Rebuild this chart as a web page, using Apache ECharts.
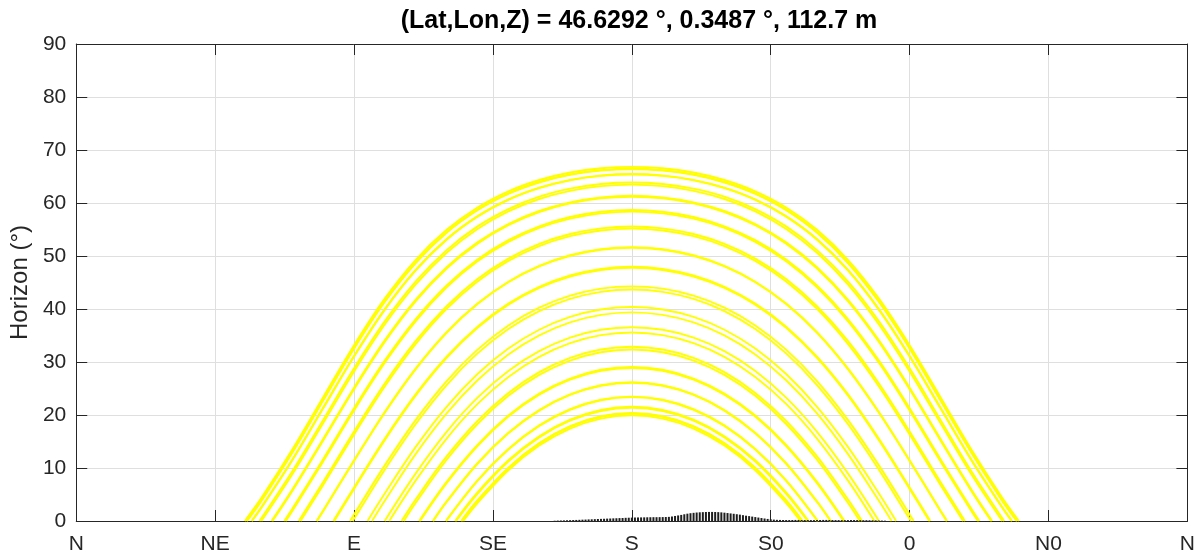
<!DOCTYPE html>
<html>
<head>
<meta charset="utf-8">
<script src="https://cdn.jsdelivr.net/npm/echarts@6/dist/echarts.min.js"></script>
<style>
  html, body { margin: 0; padding: 0; background: #ffffff; }
  #chart { width: 1198px; height: 557px; }
</style>
</head>
<body>
<div id="chart"></div>
<script>
// ---------- data ----------
const titleText = '(Lat,Lon,Z) = 46.6292 °, 0.3487 °, 112.7 m';
const xTickLabels = ['N', 'NE', 'E', 'SE', 'S', 'S0', '0', 'N0', 'N'];
const yTicks = [0, 10, 20, 30, 40, 50, 60, 70, 80, 90];

// morning azimuths (deg from north) at which elevations were read; paths are symmetric about S (180)
const azGrid = [180, 170, 160, 150, 140, 130, 120, 110, 100, 90, 80, 70, 60];

const dateLabels = ['21 Jun', '1 Jul', '11 Jun', '11 Jul', '1 Jun', '21 Jul', '21 May', '1 Aug', '11 May',
  '11 Aug', '1 May', '21 Aug', '21 Apr', '1 Sep', '11 Apr', '11 Sep', '1 Apr', '21 Sep', '21 Mar',
  '1 Oct', '11 Mar', '11 Oct', '1 Mar', '21 Oct', '21 Feb', '1 Nov', '11 Feb', '1 Feb', '11 Nov',
  '21 Nov', '21 Jan', '1 Dec', '11 Jan', '1 Jan', '11 Dec', '21 Dec'];

// sunrise azimuth (elevation 0) for each date, same order
const sunriseAz = [54.60, 55.16, 55.32, 56.78, 56.94, 59.34, 59.97, 63.26, 63.57,
  67.40, 67.86, 72.08, 72.67, 77.86, 78.01, 83.29, 83.59, 88.69, 89.56,
  94.37, 95.83, 99.93, 101.40, 105.40, 106.14, 111.09, 111.39, 115.51, 115.66,
  119.71, 119.87, 122.74, 123.06, 124.68, 124.84, 125.40];

// elevations (deg) at azGrid for each date
const jun21 = [66.81, 66.55, 65.75, 64.34, 62.21, 59.16, 54.94, 49.29, 42.00, 33.17, 23.36, 13.48, 4.37];
const jul01 = [66.47, 66.21, 65.40, 63.98, 61.82, 58.74, 54.50, 48.81, 41.50, 32.67, 22.87, 13.00, 3.93];
const jun11 = [66.37, 66.11, 65.30, 63.87, 61.71, 58.62, 54.37, 48.67, 41.36, 32.52, 22.72, 12.86, 3.80];
const jul11 = [65.47, 65.20, 64.37, 62.90, 60.68, 57.52, 53.20, 47.41, 40.03, 31.17, 21.40, 11.60, 2.63];
const jun01 = [65.37, 65.11, 64.27, 62.79, 60.57, 57.40, 53.06, 47.27, 39.88, 31.02, 21.25, 11.46, 2.50];
const jul21 = [63.87, 63.59, 62.71, 61.19, 58.86, 55.59, 51.11, 45.19, 37.71, 28.81, 19.08, 9.38, 0.54];
const may21 = [63.47, 63.18, 62.30, 60.75, 58.41, 55.10, 50.60, 44.64, 37.13, 28.23, 18.50, 8.83];
const aug01 = [61.37, 61.07, 60.13, 58.50, 56.04, 52.58, 47.89, 41.77, 34.12, 25.16, 15.49, 5.96];
const may11 = [61.17, 60.87, 59.93, 58.29, 55.81, 52.33, 47.64, 41.49, 33.84, 24.87, 15.20, 5.68];
const aug11 = [58.67, 58.35, 57.35, 55.61, 52.99, 49.34, 44.45, 38.11, 30.31, 21.29, 11.67, 2.30];
const may01 = [58.37, 58.04, 57.04, 55.29, 52.66, 48.99, 44.07, 37.71, 29.89, 20.86, 11.25, 1.90];
const aug21 = [55.57, 55.22, 54.15, 52.29, 49.51, 45.66, 40.52, 33.97, 25.99, 16.90, 7.36];
const apr21 = [55.17, 54.82, 53.74, 51.87, 49.07, 45.18, 40.02, 33.43, 25.44, 16.34, 6.81];
const sep01 = [51.67, 51.29, 50.14, 48.13, 45.15, 41.04, 35.64, 28.80, 20.62, 11.46, 1.99];
const apr11 = [51.57, 51.19, 50.03, 48.02, 45.04, 40.93, 35.51, 28.67, 20.48, 11.32, 1.85];
const sep11 = [47.97, 47.57, 46.33, 44.18, 41.02, 36.68, 31.01, 23.93, 15.57, 6.34];
const apr01 = [47.77, 47.37, 46.12, 43.97, 40.80, 36.44, 30.76, 23.67, 15.29, 6.06];
const sep21 = [44.27, 43.84, 42.52, 40.25, 36.90, 32.33, 26.40, 19.08, 10.54, 1.24];
const mar21 = [43.67, 43.24, 41.90, 39.61, 36.23, 31.62, 25.66, 18.30, 9.72, 0.41];
const oct01 = [40.37, 39.91, 38.51, 36.09, 32.55, 27.74, 21.55, 13.98, 5.24];
const mar11 = [39.37, 38.90, 37.48, 35.03, 31.43, 26.56, 20.31, 12.67, 3.88];
const oct11 = [36.57, 36.08, 34.60, 32.04, 28.31, 23.27, 16.82, 8.99];
const mar01 = [35.57, 35.08, 33.57, 30.98, 27.19, 22.09, 15.56, 7.67];
const oct21 = [32.87, 32.36, 30.79, 28.10, 24.17, 18.89, 12.18, 4.10];
const feb21 = [32.37, 31.85, 30.27, 27.57, 23.61, 18.30, 11.55, 3.44];
const nov01 = [29.07, 28.53, 26.87, 24.04, 19.91, 14.38, 7.39];
const feb11 = [28.87, 28.33, 26.66, 23.83, 19.69, 14.14, 7.14];
const feb01 = [26.17, 25.61, 23.88, 20.93, 16.65, 10.92, 3.70];
const nov11 = [26.07, 25.51, 23.78, 20.83, 16.53, 10.80, 3.58];
const nov21 = [23.47, 22.89, 21.10, 18.04, 13.59, 7.68];
const jan21 = [23.37, 22.78, 20.99, 17.93, 13.48, 7.56];
const dec01 = [21.57, 20.97, 19.13, 16.00, 11.45, 5.38];
const jan11 = [21.37, 20.76, 18.93, 15.78, 11.22, 5.13];
const jan01 = [20.37, 19.76, 17.89, 14.70, 10.08, 3.92];
const dec11 = [20.27, 19.66, 17.79, 14.60, 9.97, 3.79];
const dec21 = [19.93, 19.32, 17.44, 14.23, 9.58, 3.37];

const elevByDate = [jun21, jul01, jun11, jul11, jun01, jul21, may21, aug01, may11,
  aug11, may01, aug21, apr21, sep01, apr11, sep11, apr01, sep21, mar21,
  oct01, mar11, oct11, mar01, oct21, feb21, nov01, feb11, feb01, nov11,
  nov21, jan21, dec01, jan11, jan01, dec11, dec21];

// local horizon profile (deg), one bar per degree of azimuth starting at horizonStartAz
const horizonStartAz = 155;
const horizonEl = [
  0.05, 0.08, 0.10, 0.12, 0.14, 0.16, 0.18, 0.20, 0.22, 0.25,
  0.27, 0.30, 0.32, 0.35, 0.38, 0.40, 0.42, 0.45, 0.47, 0.50,
  0.52, 0.55, 0.57, 0.60, 0.62, 0.64, 0.66, 0.67, 0.68, 0.69,
  0.70, 0.71, 0.72, 0.72, 0.73, 0.74, 0.75, 0.78, 0.85, 0.95,
  1.05, 1.15, 1.27, 1.38, 1.47, 1.54, 1.60, 1.64, 1.67, 1.70,
  1.71, 1.71, 1.70, 1.67, 1.63, 1.57, 1.50, 1.43, 1.36, 1.28,
  1.20, 1.10, 1.00, 0.92, 0.83, 0.74, 0.65, 0.56, 0.47, 0.39,
  0.32, 0.26, 0.22, 0.20, 0.19, 0.18, 0.18, 0.19, 0.20, 0.20,
  0.19, 0.18, 0.18, 0.17, 0.17, 0.18, 0.19, 0.20, 0.20, 0.19,
  0.18, 0.17, 0.17, 0.16, 0.16, 0.17, 0.18, 0.18, 0.17, 0.16,
  0.15, 0.15, 0.14, 0.13, 0.12, 0.10, 0.08, 0.06
];

// ---------- build ----------
const FONT = '"Liberation Sans", Arial, Helvetica, sans-serif';
const AXIS_COLOR = '#262626';
const GRID_COLOR = '#dfdfdf';

const series = [];
dateLabels.forEach((label, i) => {
  const el = elevByDate[i];
  const morning = el.map((h, j) => [azGrid[j], h]).reverse();
  const afternoon = el.slice(1).map((h, j) => [360 - azGrid[j + 1], h]);
  const pts = [[sunriseAz[i], 0]].concat(morning, afternoon, [[360 - sunriseAz[i], 0]]);
  series.push({
    name: label,
    type: 'line',
    data: pts,
    xAxisIndex: 0,
    yAxisIndex: 0,
    showSymbol: false,
    symbol: 'none',
    smooth: 0.35,
    lineStyle: { color: '#ffff00', width: 1.9 },
    z: 3,
    silent: true
  });
});

series.push({
  name: 'horizon',
  type: 'bar',
  data: horizonEl.map((h, i) => [horizonStartAz + i, h]),
  xAxisIndex: 0,
  yAxisIndex: 0,
  barWidth: 2,
  itemStyle: { color: '#1e1e1e' },
  z: 4,
  silent: true
});

const commonTick = { show: true, inside: true, length: 11, lineStyle: { color: AXIS_COLOR, width: 1 } };
const commonLine = { show: true, onZero: false, lineStyle: { color: AXIS_COLOR, width: 1 } };

const option = {
  animation: false,
  backgroundColor: '#ffffff',
  title: {
    text: titleText,
    left: 634,
    textAlign: 'center',
    top: 4,
    textStyle: { fontFamily: FONT, fontSize: 25, fontWeight: 'bold', color: '#000000' }
  },
  grid: { left: 76, right: 7, top: 44, bottom: 36, containLabel: false },
  xAxis: [
    {
      type: 'value', min: 0, max: 360, interval: 45, position: 'bottom',
      axisLine: commonLine, axisTick: commonTick,
      axisLabel: {
        show: true, margin: 13, color: AXIS_COLOR, fontFamily: FONT, fontSize: 21,
        showMinLabel: true, showMaxLabel: true,
        formatter: v => xTickLabels[Math.round(v / 45)]
      },
      splitLine: { show: true, lineStyle: { color: GRID_COLOR, width: 1 } }
    },
    {
      type: 'value', min: 0, max: 360, interval: 45, position: 'top',
      axisLine: commonLine, axisTick: commonTick,
      axisLabel: { show: false }, splitLine: { show: false }
    }
  ],
  yAxis: [
    {
      type: 'value', min: yTicks[0], max: yTicks[yTicks.length - 1], interval: 10, position: 'left',
      name: 'Horizon (°)', nameLocation: 'middle', nameGap: 38, nameRotate: 90,
      nameTextStyle: { fontFamily: FONT, fontSize: 24, color: AXIS_COLOR },
      axisLine: commonLine, axisTick: commonTick,
      axisLabel: { show: true, margin: 10, color: AXIS_COLOR, fontFamily: FONT, fontSize: 21 },
      splitLine: { show: true, lineStyle: { color: GRID_COLOR, width: 1 } }
    },
    {
      type: 'value', min: yTicks[0], max: yTicks[yTicks.length - 1], interval: 10, position: 'right',
      axisLine: commonLine, axisTick: commonTick,
      axisLabel: { show: false }, splitLine: { show: false }
    }
  ],
  series: series
};

const chart = echarts.init(document.getElementById('chart'), null, { renderer: 'canvas' });
chart.setOption(option);
</script>
</body>
</html>
